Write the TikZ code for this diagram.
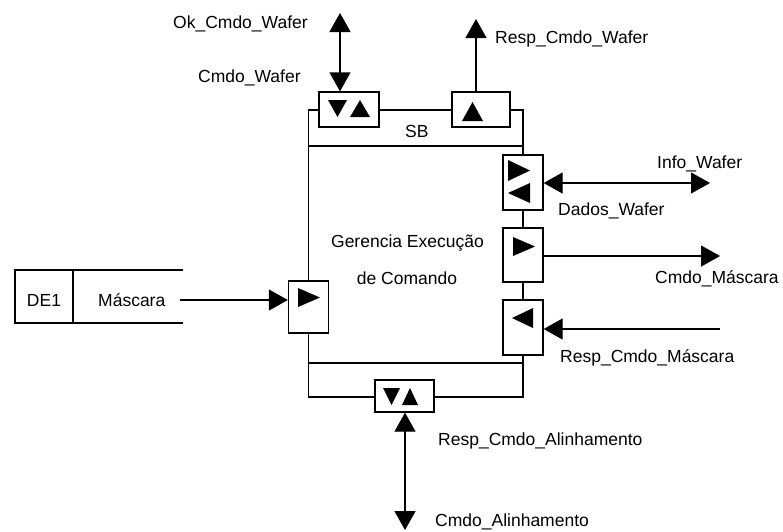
\documentclass[tikz,border=0pt]{standalone}
\usepackage{fontspec}
\setmainfont{Liberation Sans}
\usetikzlibrary{arrows.meta}
\begin{document}
\begin{tikzpicture}[x=1pt,y=-1pt,
  every node/.style={font=\fontsize{17.5}{20}\selectfont},
  line/.style={line width=1.3pt},
  port/.style={draw,line width=1.3pt,fill=white,inner sep=0pt,minimum width=40pt,minimum height=55pt},
  txt/.style={inner sep=0pt,anchor=base west},
  tip/.style={line width=1.3pt,-{Triangle[length=19pt,width=21pt]}},
  dbl/.style={line width=1.3pt,{Triangle[length=19pt,width=21pt]}-{Triangle[length=19pt,width=21pt]}},
  glyph/.style={fill=black}]
\useasboundingbox (0,0) rectangle (783,531);
% main process box with SB strip and bottom strip
\draw[line] (308.5,110) rectangle (523,397);
\draw[line] (308.5,146) -- (523,146);
\draw[line] (308.5,363) -- (523,363);
% ports
\node[port,minimum width=60pt,minimum height=35pt] (b1) at (349,109.5) {};
\node[port,minimum width=58pt,minimum height=35pt] (b2) at (481,109.5) {};
\node[port] (r1) at (523,182.5) {};
\node[port,minimum height=54pt] (r2) at (523,255) {};
\node[port] (r3) at (523,327.5) {};
\node[port,minimum height=52pt] (lb) at (308.5,307) {};
\node[port,minimum width=59pt,minimum height=32pt] (bb) at (404.5,396) {};
% port glyphs
\fill[glyph] (328,100) -- (347,100) -- (337.5,117) -- cycle;
\fill[glyph] (350,117) -- (370,117) -- (360,100) -- cycle;
\fill[glyph] (462,121) -- (483,121) -- (472.5,102) -- cycle;
\fill[glyph] (508,160) -- (508,181) -- (530,170.5) -- cycle;
\fill[glyph] (530,183) -- (530,203) -- (508,193) -- cycle;
\fill[glyph] (513,237) -- (513,256) -- (535,246.5) -- cycle;
\fill[glyph] (533,308) -- (533,328) -- (512,318) -- cycle;
\fill[glyph] (298,288) -- (298,307) -- (320,297.5) -- cycle;
\fill[glyph] (383,388) -- (400,388) -- (391.5,405) -- cycle;
\fill[glyph] (402,405) -- (418,405) -- (410,388) -- cycle;
% data store
\draw[line] (183,270) -- (15,270) -- (15,323) -- (183,323);
\draw[line] (73,270) -- (73,323);
\node[inner sep=0pt,anchor=base] (de1) at (44,306) {DE1};
\node[txt] (dsname) at (98,306) {Máscara};
% texts
\node[txt] (sb) at (405,137) {SB};
\node[inner sep=0pt,anchor=base] (t1) at (407.5,247) {Gerencia Execução};
\node[inner sep=0pt,anchor=base] (t2) at (407,284) {de Comando};
\node[txt] (lok) at (173,28) {Ok\_Cmdo\_Wafer};
\node[txt] (lcw) at (198,82) {Cmdo\_Wafer};
\node[txt] (lrcw) at (495,43) {Resp\_Cmdo\_Wafer};
\node[txt] (liw) at (657,168) {Info\_Wafer};
\node[txt] (ldw) at (558,215) {Dados\_Wafer};
\node[txt] (lcm) at (655,283) {Cmdo\_Máscara};
\node[txt] (lrcm) at (560,362) {Resp\_Cmdo\_Máscara};
\node[txt] (lrca) at (438,445) {Resp\_Cmdo\_Alinhamento};
\node[txt] (lca) at (435,526) {Cmdo\_Alinhamento};
% free ends
\coordinate (okt) at (340,13);
\coordinate (rcw) at (476,19);
\coordinate (iw) at (710,183);
\coordinate (cm) at (720,256);
\coordinate (rcm) at (720,329);
\coordinate (ms) at (180,300);
\coordinate (ca) at (405,530);
% connectors
\draw[dbl] (okt) -- (b1.north -| okt);
\draw[tip] (b2.north -| rcw) -- (rcw);
\draw[dbl] (r1.east |- iw) -- (iw);
\draw[tip] (r2.east |- cm) -- (cm);
\draw[tip] (rcm) -- (r3.east |- rcm);
\draw[tip] (ms) -- (lb.west |- ms);
\draw[dbl] (bb.south -| ca) -- (ca);
\end{tikzpicture}
\end{document}
